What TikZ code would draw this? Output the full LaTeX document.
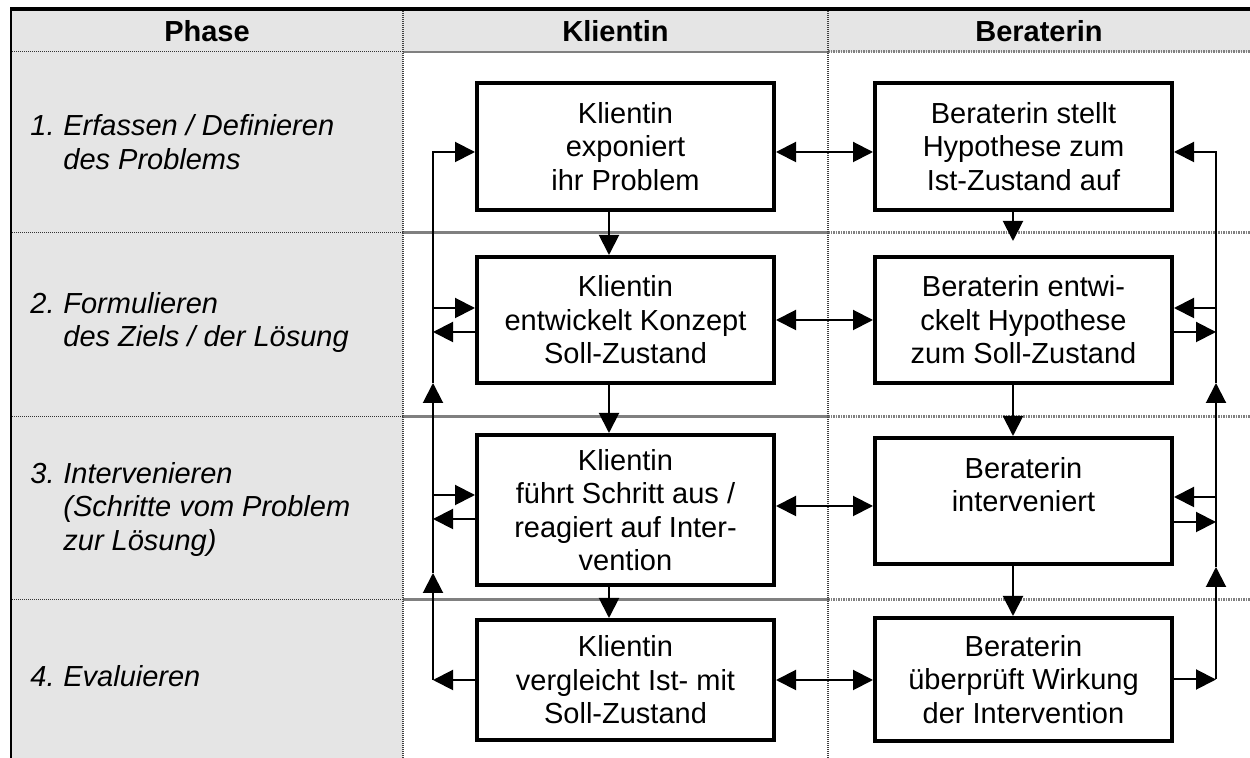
\documentclass[tikz,border=0pt]{standalone}
\usepackage{fontspec}
\setmainfont{Liberation Sans}
\usetikzlibrary{arrows.meta,calc}
\newcommand{\boxfont}{\fontsize{14.5}{16.75}\selectfont}

\begin{document}
\begin{tikzpicture}[x=0.5pt,y=-0.5pt,
      box/.style={draw,line width=2pt,minimum width=148.5pt,inner sep=0pt,align=center,font=\boxfont},
      phase/.style={anchor=west,inner sep=0pt,font=\boxfont\itshape},
      head/.style={font=\boxfont\bfseries},
      arr/.style={-{Triangle[length=10pt,width=10pt]},line width=1pt},
      dbl/.style={{Triangle[length=10pt,width=10pt]}-{Triangle[length=10pt,width=10pt]},line width=1pt},
      fine/.style={dash pattern=on 0.5pt off 0.5pt,line width=0.5pt,black!80},
      coarse/.style={dash pattern=on 0.75pt off 0.5pt,line width=1.5pt,gray},
      vdot/.style={dash pattern=on 0.5pt off 0.5pt,line width=1pt,black!75}]
      \useasboundingbox (0,0) rectangle (1250,758);
      \fill[gray!20] (12,11) rectangle (1250,52);
      \fill[gray!20] (12,52) rectangle (403,758);
      \foreach \y/\w in {52/1pt,233/1.5pt,417/1.5pt,600/1.5pt} {
        \draw[fine] (12,\y) -- (403,\y);
        \draw[gray,line width=\w] (403,\y) -- (828,\y);
        \draw[coarse] (828,\y) -- (1250,\y);
      }
      \draw[vdot] (403,11) -- (403,758);
      \draw[vdot] (828,11) -- (828,758);
      \draw[line width=2pt] (10,9) -- (1250,9);
      \draw[line width=1.25pt] (11,8) -- (11,758);

      \node[head] (hphase) at (207,31.5) {Phase};
      \node[head] (hklient) at (615.5,31.5) {Klientin};
      \node[head] (hberat) at (1039,31.5) {Beraterin};

      \node[phase] (p1) at (30,146) {\begin{tabular}{@{}p{16.5pt}@{}l@{}}1. & Erfassen / Definieren\\ & des Problems\end{tabular}};
      \node[phase] (p2) at (30,323.5) {\begin{tabular}{@{}p{16.5pt}@{}l@{}}2. & Formulieren\\ & des Ziels / der Lösung\end{tabular}};
      \node[phase] (p3) at (30,510) {\begin{tabular}{@{}p{16.5pt}@{}l@{}}3. & Intervenieren\\ & (Schritte vom Problem\\ & zur Lösung)\end{tabular}};
      \node[phase] (p4) at (30,680) {\begin{tabular}{@{}p{16.5pt}@{}l@{}}4. & Evaluieren\end{tabular}};

      \node[box,minimum height=63.5pt] (k1) at (625.5,146.5) {Klientin\\exponiert\\ihr Problem};
      \node[box,minimum height=63pt] (k2) at (625.5,320) {Klientin\\entwickelt Konzept\\Soll-Zustand};
      \node[box,minimum height=75pt] (k3) at (625.5,510) {Klientin\\führt Schritt aus /\\reagiert auf Inter-\\vention};
      \node[box,minimum height=60pt] (k4) at (625.5,680) {Klientin\\vergleicht Ist- mit\\Soll-Zustand};
      \node[box,minimum height=63.5pt] (b1) at (1023.5,146.5) {Beraterin stellt\\Hypothese zum\\Ist-Zustand auf};
      \node[box,minimum height=63pt] (b2) at (1023.5,320) {Beraterin entwi-\\ckelt Hypothese\\zum Soll-Zustand};
      \node[box,minimum height=63pt] (b3) at (1023.5,501) {Beraterin\\interveniert\\\mbox{}};
      \node[box,minimum height=61.5pt] (b4) at (1023.5,679.5) {Beraterin\\überprüft Wirkung\\der Intervention};

      \coordinate (lrail) at (433,0);
      \coordinate (rrail) at (1216,0);
      \coordinate (lup1) at (433,383);
      \coordinate (lup2) at (433,573);
      \coordinate (rup1) at (1216,383);
      \coordinate (rup2) at (1216,567);

      \draw[arr] ($(k1.south)+(-16.5,0)$) -- ($(k2.north)+(-16.5,0)$);
      \draw[arr] ($(k2.south)+(-16.5,0)$) -- ($(k3.north)+(-16.5,0)$);
      \draw[arr] ($(k3.south)+(-16.5,0)$) -- ($(k4.north)+(-16.5,0)$);
      \draw[arr,shorten >=7pt] ($(b1.south)+(-10.5,0)$) -- ($(b2.north)+(-10.5,0)$);
      \draw[arr] ($(b2.south)+(-10.5,0)$) -- ($(b3.north)+(-10.5,0)$);
      \draw[arr] ($(b3.south)+(-10.5,0)$) -- ($(b4.north)+(-10.5,0)$);

      \draw[dbl] ($(k1.east)+(0,5.5)$) -- ($(b1.west)+(0,5.5)$);
      \draw[dbl] (k2.east) -- (b2.west);
      \draw[dbl] ($(k3.east)+(0,-4)$) -- ($(b3.west)+(0,5)$);
      \draw[dbl] (k4.east) -- (k4.east -| b4.west);

      \draw[arr] (k4.west) -- (lrail |- k4.west);
      \draw[arr] (lrail |- k4.west) -- (lup2);
      \draw[arr] (lup2) -- (lup1);
      \draw[arr] (lup1) -- ($(lrail |- k1.west)+(0,5.5)$) -- ($(k1.west)+(0,5.5)$);
      \draw[arr] ($(lrail |- k2.west)+(0,-12)$) -- ($(k2.west)+(0,-12)$);
      \draw[arr] ($(k2.west)+(0,12)$) -- ($(lrail |- k2.west)+(0,12)$);
      \draw[arr] ($(lrail |- k3.west)+(0,-15)$) -- ($(k3.west)+(0,-15)$);
      \draw[arr] ($(k3.west)+(0,9)$) -- ($(lrail |- k3.west)+(0,9)$);

      \draw[arr] (b4.east) -- (rrail |- b4.east);
      \draw[arr] (rrail |- b4.east) -- (rup2);
      \draw[arr] (rup2) -- (rup1);
      \draw[arr] (rup1) -- ($(rrail |- b1.east)+(0,5.5)$) -- ($(b1.east)+(0,5.5)$);
      \draw[arr] ($(rrail |- b2.east)+(0,-12)$) -- ($(b2.east)+(0,-12)$);
      \draw[arr] ($(b2.east)+(0,12)$) -- ($(rrail |- b2.east)+(0,12)$);
      \draw[arr] ($(rrail |- b3.east)+(0,-4)$) -- ($(b3.east)+(0,-4)$);
      \draw[arr] ($(b3.east)+(0,21)$) -- ($(rrail |- b3.east)+(0,21)$);
    \end{tikzpicture}
\end{document}
